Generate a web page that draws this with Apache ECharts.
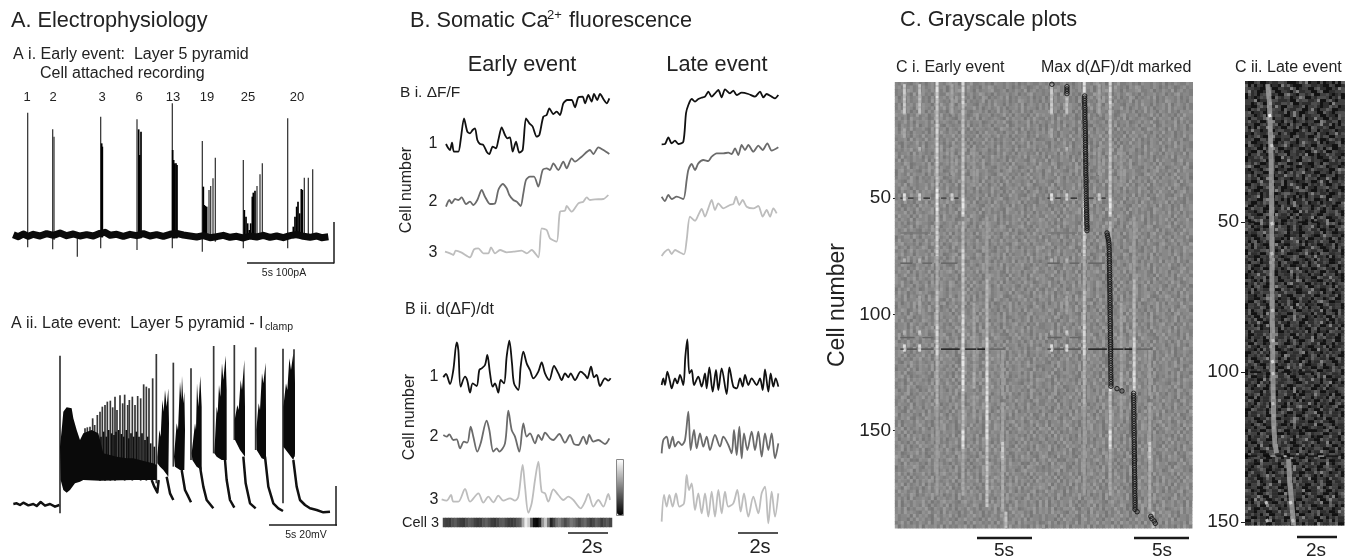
<!DOCTYPE html>
<html>
<head>
<meta charset="utf-8">
<style>
  html, body { margin: 0; padding: 0; background: #fff; }
  #chart { width: 1355px; height: 560px; }
</style>
<script src="https://cdn.jsdelivr.net/npm/echarts@6/dist/echarts.min.js"></script>
</head>
<body>
<div id="chart"></div>
<script>
// Panel A i, cell attached: [sample, top, bottom] in display units (axes run downward)
const aiBaseline = [[40,704],[55,710],[70,702],[85,709],[100,703],[120,708],[140,701],[160,706],[180,699],[200,707],[220,702],[240,708],[260,704],[280,708],[300,700],[315,697],[330,706],[350,703],[370,709],[390,703],[410,707],[430,701],[450,708],[470,704],[490,709],[510,703],[530,700],[550,705],[570,708],[590,711],[610,707],[630,713],[650,710],[670,706],[690,712],[710,709],[730,714],[750,708],[770,711],[790,706],[810,712],[830,708],[850,713],[870,707],[890,703],[910,709],[930,712],[950,708],[965,713],[985,710]];
const aiThinSpikes = [[83,338,742],[158,388,748],[162,410,720],[232,700,770],[302,350,745],[411,358,750],[517,310,745],[607,423,755],[627,570,720],[632,558,720],[639,535,720],[646,473,725],[730,480,745],[771,558,715],[780,523,715],[787,490,715],[863,355,745],[913,533,715],[925,533,715],[938,508,715]];
const aiBursts = [[305,430,712],[307,440,712],[416,388,715],[419,465,715],[423,395,715],[518,450,715],[521,480,715],[524,490,715],[528,490,715],[531,495,715],[610,560,715],[613,615,715],[616,618,715],[620,620,715],[733,630,715],[738,650,715],[743,670,715],[748,690,715],[752,670,715],[757,590,715],[760,578,715],[765,572,715],[880,680,715],[885,650,715],[890,620,715],[894,605,715],[899,640,715],[904,567,715],[907,570,715]];

// Panel A ii, current clamp
const aiiRest = [[40,642],[50,640],[60,645],[70,638],[85,646],[100,642],[110,648],[122,636],[135,647],[150,642],[165,650],[178,645]];
const aiiTail = [[455,570],[463,590],[472,607],[476,570],null,[500,560],[510,610],[520,630],null,[545,540],[555,600],[565,620],[573,637],null,[600,530],[610,590],[620,630],[640,655],null,[675,510],[680,570],[690,630],[703,653],null,[730,500],[737,580],[750,640],[767,655],null,[795,500],[805,590],[820,640],[835,655],[849,663],null,[880,510],[890,590],[900,630],[915,645],[930,655],[950,660],[970,667],[990,665]];
const aiiSpikes = [[180,197,670],[255,415,570],[262,412,570],[270,410,570],[278,385,570],[284,405,570],[292,375,570],[300,365,572],[307,350,570],[315,345,572],[322,335,570],[331,332,572],[338,352,570],[345,320,572],[351,360,570],[360,316,570],[368,340,570],[374,314,572],[383,345,570],[388,330,570],[397,320,572],[405,345,570],[413,318,570],[422,325,572],[431,283,570],[439,290,572],[447,295,570],[458,265,570],[469,192,580],[520,218,530],[573,235,510],[641,168,490],[703,165,450],[767,172,480],[849,176,640],[882,178,500]];
const aiiComb = [[303,440],[311,425],[319,440],[326,420],[335,430],[342,435],[348,425],[356,420],[364,432],[371,440],[379,420],[386,445],[393,430],[401,440],[409,425],[417,440],[426,430],[435,450],[443,440],[452,460],[463,470]];
const aiiBodies = [
  [[180,470],[185,420],[190,365],[200,352],[215,355],[220,385],[230,420],[240,450],[250,430],[275,420],[295,430],[310,490],[350,500],[380,505],[400,505],[420,510],[440,515],[460,520],[470,525],[470,570],[440,570],[400,570],[300,572],[250,570],[240,575],[225,580],[210,600],[200,608],[190,600],[182,570]],
  [[472,500],[478,420],[482,440],[487,330],[491,365],[495,300],[500,350],[505,295],[507,400],[505,560],[490,540],[480,530],[472,520]],
  [[522,500],[530,400],[534,420],[540,275],[544,330],[546,258],[550,340],[553,305],[555,420],[553,540],[540,540],[525,530]],
  [[575,490],[585,400],[588,420],[591,280],[595,350],[601,258],[605,350],[605,540],[590,530],[577,510]],
  [[643,490],[650,350],[653,370],[657,285],[661,320],[666,220],[670,270],[677,197],[680,300],[680,510],[665,510],[650,500]],
  [[704,390],[712,345],[716,360],[722,270],[726,300],[733,210],[735,350],[735,500],[720,480],[705,450]],
  [[769,420],[776,340],[780,360],[786,250],[790,280],[797,218],[798,360],[798,510],[785,505],[770,480]],
  [[850,350],[858,280],[862,300],[868,205],[873,240],[880,190],[885,280],[885,490],[880,510],[865,490],[850,470]]
];

// Panel B i, somatic dF/F
const dffEarly1 = [[168,432],[175,445],[180,450],[186,428],[192,455],[205,455],[212,420],[222,355],[232,395],[240,400],[248,390],[255,385],[262,420],[270,432],[280,435],[290,455],[298,462],[308,440],[318,445],[325,420],[335,382],[345,405],[352,415],[360,412],[368,455],[378,425],[388,458],[398,450],[408,355],[418,370],[428,380],[440,410],[448,405],[460,350],[470,345],[478,325],[490,342],[500,335],[510,345],[520,310],[532,300],[545,300],[555,322],[565,292],[578,290],[585,310],[595,285],[605,305],[612,282],[622,300],[630,282],[642,300],[650,310],[658,295]];
const dffEarly2 = [[168,620],[178,600],[185,610],[195,597],[205,600],[215,592],[228,612],[240,605],[250,615],[262,600],[275,570],[285,590],[300,612],[315,610],[325,570],[338,552],[350,565],[358,585],[370,600],[380,605],[392,618],[400,580],[408,540],[420,530],[432,530],[445,560],[458,510],[470,505],[480,510],[490,490],[505,510],[520,485],[530,505],[545,475],[555,485],[575,470],[600,450],[610,462],[625,442],[640,450],[658,462]];
const dffEarly3 = [[165,755],[180,760],[190,765],[197,752],[215,758],[240,772],[252,748],[265,745],[280,760],[295,760],[303,742],[315,760],[330,750],[350,757],[370,755],[395,752],[410,760],[425,750],[445,772],[455,685],[470,690],[480,715],[500,725],[510,635],[525,632],[530,618],[545,635],[565,610],[580,605],[590,592],[600,600],[615,598],[640,597],[655,585]];
const dffLate1 = [[815,433],[825,432],[835,412],[845,430],[855,422],[865,432],[880,425],[888,340],[895,315],[905,297],[915,305],[925,297],[935,293],[945,290],[955,275],[965,290],[975,280],[985,270],[995,292],[1005,268],[1020,280],[1030,272],[1040,285],[1055,278],[1075,282],[1095,290],[1110,275],[1120,292],[1130,282],[1145,290],[1155,295],[1165,285]];
const dffLate2 = [[815,590],[825,603],[835,585],[845,597],[860,590],[880,597],[890,540],[895,510],[905,492],[915,510],[925,490],[940,480],[955,483],[965,470],[980,460],[1000,460],[1015,458],[1025,462],[1035,445],[1045,465],[1055,435],[1065,450],[1075,435],[1090,455],[1105,437],[1118,450],[1132,430],[1145,452],[1165,442]];
const dffLate3 = [[815,768],[825,755],[835,748],[845,762],[855,750],[865,755],[882,763],[890,720],[900,650],[915,662],[925,645],[935,627],[945,650],[955,625],[965,600],[975,630],[985,610],[1000,625],[1020,615],[1030,612],[1038,590],[1048,615],[1058,600],[1070,620],[1090,625],[1105,618],[1118,650],[1130,630],[1140,650],[1150,625],[1160,640]];

// Panel B ii, d(dF)/dt
const derivEarly1 = [[160,262],[168,252],[180,282],[190,240],[200,157],[205,180],[212,290],[225,260],[232,272],[240,308],[248,280],[260,288],[268,240],[275,235],[285,225],[292,195],[300,250],[308,290],[315,280],[325,308],[332,270],[342,280],[350,200],[358,152],[366,220],[372,280],[385,300],[392,230],[400,185],[410,220],[420,240],[430,265],[445,245],[455,217],[465,250],[478,270],[492,228],[505,250],[515,270],[525,250],[535,262],[542,250],[555,270],[572,245],[585,255],[592,265],[603,230],[612,262],[620,255],[630,288],[645,265],[655,272],[662,265]];
const derivEarly2 = [[160,435],[170,440],[178,433],[190,450],[200,448],[210,475],[222,455],[232,458],[242,410],[250,440],[262,485],[272,460],[290,392],[298,420],[310,485],[320,475],[328,485],[345,460],[355,362],[365,420],[375,440],[388,485],[400,400],[410,440],[420,430],[435,460],[445,435],[455,450],[465,428],[480,445],[490,450],[508,432],[525,458],[540,435],[552,462],[565,465],[580,440],[590,462],[598,435],[610,455],[625,450],[645,462],[658,445]];
const derivEarly3 = [[155,628],[170,632],[183,615],[190,635],[205,635],[225,597],[240,635],[265,610],[280,638],[295,620],[310,637],[325,617],[340,632],[360,625],[375,632],[385,620],[398,525],[405,590],[415,668],[425,640],[435,570],[445,515],[455,605],[465,610],[475,635],[490,598],[505,615],[520,630],[535,620],[550,630],[572,655],[585,635],[595,612],[610,650],[625,630],[640,650],[655,612],[660,630]];
const derivLate1 = [[815,285],[820,265],[825,285],[832,245],[840,275],[845,295],[855,265],[862,280],[870,255],[880,285],[886,200],[892,148],[898,250],[905,240],[912,285],[925,260],[935,290],[945,250],[950,295],[958,232],[968,305],[978,240],[985,300],[995,235],[1010,312],[1018,232],[1030,290],[1040,295],[1050,265],[1058,290],[1065,255],[1075,285],[1085,265],[1100,285],[1110,265],[1118,300],[1125,238],[1135,305],[1142,250],[1150,290],[1157,265],[1165,290]];
const derivLate2 = [[815,490],[820,450],[830,440],[838,475],[848,440],[855,470],[865,455],[875,465],[885,450],[895,365],[902,480],[912,420],[920,475],[930,430],[940,470],[950,440],[960,480],[975,435],[990,470],[1000,440],[1015,465],[1025,490],[1032,420],[1040,495],[1048,410],[1055,505],[1062,430],[1072,480],[1085,425],[1095,480],[1105,425],[1115,500],[1125,430],[1135,480],[1145,430],[1155,505],[1165,460]];
const derivLate3 = [[815,695],[822,615],[830,650],[838,615],[848,650],[858,610],[868,650],[882,640],[890,555],[897,600],[905,580],[915,660],[925,610],[935,670],[945,610],[955,680],[965,605],[975,680],[985,600],[995,670],[1005,605],[1015,650],[1030,640],[1042,600],[1052,665],[1062,610],[1075,680],[1090,620],[1105,670],[1115,610],[1125,590],[1135,700],[1145,605],[1155,680],[1165,610]];

// Cell 3 strip under B ii, gray level per time bin
const cell3Strip = [70,62,58,80,90,72,60,55,78,92,85,66,58,60,84,95,80,62,55,70,88,92,74,60,58,66,86,94,170,235,205,90,15,8,40,150,200,120,35,70,110,125,100,75,95,118,105,85,70,92,105,80,60,72,96,84,62,78,90,70];

// Panel C i, gray code per cell row (3 cells) and time column
const earlyTexture = [
'54654356453564554675635457445645365546546354654465',
'45547645365465546354675465364556744563546547356454',
'63546456745364556463754546354763545647354655463546',
'46355647465536475465364755436546475536456473565464',
'55746354563647545365547643556463547465365474536556',
'46463755465347564654365546473654565437465563647545',
'53654647356456743654556473546456365547346554745636',
'64745365546365475465637454536475564536547456354655',
'45563746547456354654745363655474635465536475456346',
'56364556473565474536654563745465637465546354756454',
'64556374654536465745365447563654536475463656454736',
'47365465547364565643754565364754654563746554367455',
'55647356454765365446557364654755436564756345654763',
'36547465563647455637546436574565436756454635745564',
'65436754654563746536475565463745646357465545637465',
'54765364557463654745536465374654756345656473654635',
'46354756465534765465637454565473646354756443657454',
'65474536547365465756345664735546375464565736454365',
'54636547465573645465374655463756465437654563647556',
'47556364756454637546535647654365574635465563745646',
'56463547655436754565473653645746553647465463754565',
'64574654365476354655647365545637465654736456354756',
'35466475365564745636547456534657465365474563655474',
'56745546356475463546756365465473564654367545636547',
'45635746554637465645367455643765436547465563654756',
'63547465637456546357465564365476546375465546374655',
'54765436556473656434756546535746564736546574536465',
'46557364654735465675364556473654556437465636547546',
'65436574654563746554635746455367456547365466354756',
'54745636547465365476545637465546357465564365475463',
'47563546756434765465563746546357456654736545637465',
'65474556364756543647565463745465376456354657465364',
'36556473654745635465746354565473654635746556436754',
'56463754565437465563647545637465546374656453674556',
'64745365476546356475463556474563546574635645736554',
'45563647546573654654763545647365546375465563746545',
'57364654756345567436546574653654756443657465536474',
'63547465365547463654756465364756455637465463574656',
'45655374654637465546357456547365465637456546354765',
'56473546574635465756346554763546557463654756354645',
'64365754654563746556436754654736456537465645736554',
'35547463655473654656374654754635465573645665437465',
'56746354565437465463756454656374654756354656473546',
'45635746556473654754635465637456546374655436574654',
'63547456354756465364754655463746556437465645376456',
'54763546574654365647546356475463655473654565374654',
'46554736546574635465756346554736546574563654753646',
'65437465563746545637465654736546357465647354655637',
'54657436547654356475463655647354657463546574655364',
'47365546754635467456355647465365476546357465463756',
'56474635465563746556437465546374655647354656473645',
'63556474635465746355647465364756454736546574635465',
'45746354756546357465536474654635746556437465463755',
'56345657463546754654763545647365465756346554735467',
'64756343655746354675465536475463546574635465647356',
'35465576436547465563746546354756465374655463765454',
'57463645574635467546536475463756545637465546374655',
'46554736465763545647365465573645746554637465463756',
'65376454635746556473546574635465756354654736546574',
'54654763546575463546374656547365465637456554736465',
'47365465574635467565436754655463746546357456465374',
'56473546657436547546365475463556473654756345657465',
'64556374656437546574635465756354654763546574635546',
'45746354654736546574655364756454637465563746554637'
];

// Panel C ii, gray code per cell row (2 cells) and time column
const lateTexture = [
'100230012113320001425011030120304',
'322110043002211530122003411002153',
'041202333120045210331240022310120',
'222501102331112004233112500341022',
'110034220152003311240223101142301',
'340112003221140252001332004210233',
'203311450022132103240115220031142',
'122002311340120413300212351140203',
'315220114023311200142033021123011',
'021341002511222034112002413300322',
'240011233002143110253211402011340',
'112300412530021132002141230340012',
'302241100213340221315002011423110',
'021113402300115220033412210024132',
'453002211241033120021102343012201',
'110322003114202413351120022103142',
'231140152002311012204223011530021',
'003214322011402531100312142002313',
'241002113253011022443100212031120',
'112350210032141103020231154002231',
'320021431102220351124011302113004',
'014223002311415002133202410320112',
'231100342052113024011132003211430',
'102435110223002132310204112500213',
'340212003114220141023351021300224',
'021133520012340211002231140320011',
'213002241311020532114002213104302',
'130421002351100223140312002114023',
'022113340201523110024211330021140',
'311002214031012243002315112040231',
'103320115220341100213024113200142',
'240113002312014325011200234110302',
'012251134002211403122031104223010',
'331020412130022115403211002314120',
'120342001153220013124002311230412',
'204113220031142230011532140220113',
'311002354120113002411203220134002',
'022141103220314105230112003411220',
'140233011402112340022131150320041',
'213004122311002251340120213004132',
'031152003214110223004113251020311',
'122340110230412113120034022111403',
'300211423051122004131120340211302',
'113022004113230241002351110224003',
'241103215002114320131002214030112',
'002314120341002211450231102131220',
'130022351120240113002142211300341',
'312410023002114231520011340223011',
'021132114203300212041133002114230',
'240011302251134002311220415002113',
'113204120031123310024112203350120',
'320112003421102051132300214011233',
'021340211302241103002215311204002',
'143002113025112320401120031240213',
'210231140023003114522011302113400',
'031122304112420031102335002141120',
'223001142300211254103220114002312',
'110342011231002041132115003320211',
'041120032214300211020000113402231',
'302113240011532104122301002241103',
'120034112203141002311242011503220',
'213002351120234011402113320011402',
'041122003411300225120341002133210',
'332015002141123002134011222400113',
'110243110320041152203112003421102',
'024112302013420311002114253201130',
'311300142022113240311500221041123',
'102241035112002314120032143002211',
'430120023114201132250011342003122',
'112253004112330021140231002415013',
'020341121003214102302113250041132',
'351002114230112004231411003220114',
'113120340022153114002231401120023',
'004231125011302140322113002140311'
];

// Panel C i: bright vertical bands [time s, from cell, to cell, gray]
const earlyBands = [
[3.64,0,8,225],[3.64,8,18,200],[3.64,18,35,215],[3.64,35,46,200],[3.64,46,56,235],[3.64,56,75,210],[3.64,75,90,175],[3.64,90,105,195],[3.64,105,118,215],[3.64,118,140,180],[3.64,140,178,160],
[6.0,0,10,215],[6.0,10,30,195],[6.0,30,50,200],[6.0,50,58,230],[6.0,60,72,185],[6.0,72,82,215],[6.0,82,100,195],[6.0,100,118,220],[6.0,118,133,230],[6.0,133,150,190],[6.0,150,158,230],[6.0,158,178,170],
[8.18,58,85,160],[8.18,85,110,185],[8.18,110,125,215],[8.18,125,155,225],[8.18,155,183,200],
[0.67,1,14,205],[0.67,20,24,170],[0.67,48,51,225],[0.67,76,78,180],[0.67,107,109,180],[0.67,113,116,220],
[2.06,1,14,195],[2.06,28,30,180],[2.06,48,51,210],[2.06,76,78,180],[2.06,92,100,165],[2.06,107,109,205],[2.06,113,116,220],
[5.0,1,14,165],[5.0,28,40,155],[5.0,48,51,205],
[7.0,28,45,155],[7.0,95,120,165],[7.0,125,132,175],[7.0,135,145,160],
[9.6,115,135,160],[9.6,138,155,165],[9.6,155,163,205],[9.6,163,185,175],[9.9,185,192,195]
];
// Panel C i: dark horizontal rows [cell, from s, to s, gray]
const earlyRows = [
[50,0.3,0.5,60],[50,1.0,1.5,60],[50,2.4,3.0,50],[50,4.0,4.5,70],[50,5.2,5.6,60],
[65,0.3,3.0,118],[78,0.3,1.4,98],[78,2.3,3.2,102],[78,4.0,5.5,102],
[110,0.3,1.6,98],[110,2.3,3.3,102],
[115,0.3,0.6,70],[115,0.9,1.8,80],[115,2.2,3.3,85],[115,4.0,5.7,30],[115,6.2,7.2,35],[115,7.3,8.0,20],[115,8.4,9.8,100]
];
// Time of max d(dF)/dt per cell, null where no mark can be read
const maxDerivTimes = [
0.7,2.07,2.07,2.07,2.07,3.68,3.68,3.68,3.68,3.68,
3.7,3.7,3.7,3.7,3.7,3.7,3.72,3.72,3.72,3.72,
3.74,3.74,3.74,3.74,3.74,3.75,3.75,3.75,3.75,3.75,
3.77,3.77,3.77,3.77,3.77,3.78,3.78,3.78,3.78,3.78,
3.8,3.8,3.8,3.8,3.8,3.81,3.81,3.81,3.81,3.81,
3.83,3.83,3.83,3.83,3.85,3.85,3.85,3.85,3.87,3.87,
3.87,3.89,3.89,3.89,5.71,5.75,5.8,5.85,5.88,5.9,
5.9,5.92,5.92,5.92,5.93,5.93,5.93,5.94,5.94,5.94,
5.95,5.95,5.95,5.96,5.96,5.96,5.97,5.97,5.97,5.97,
5.98,5.98,5.98,5.98,5.99,5.99,5.99,5.99,6.0,6.0,
6.0,6.0,6.01,6.01,6.01,6.01,6.02,6.02,6.02,6.02,
6.03,6.03,6.03,6.03,6.04,6.04,6.04,6.04,6.05,6.05,
6.05,6.05,6.06,6.06,6.06,6.06,6.06,6.07,6.07,6.07,
6.07,6.62,7.07,8.13,8.13,8.14,8.14,8.14,8.15,8.15,
8.15,8.15,8.16,8.16,8.16,8.16,8.17,8.17,8.17,8.17,
8.18,8.18,8.18,8.18,8.19,8.19,8.19,8.19,8.2,8.2,
8.2,8.2,8.21,8.21,8.21,8.21,8.22,8.22,8.22,8.22,
8.23,8.23,8.23,8.23,8.24,8.24,8.24,8.24,8.25,8.25,
8.25,8.26,8.26,8.26,8.45,null,9.7,9.8,10.0,10.1
];

// Panel C ii: the bright late band [time s, cell]
const lateBand = [[1.12,4],[1.2,10],[1.25,20],[1.29,30],[1.31,40],[1.31,50],[1.33,60],[1.33,70],[1.34,80],[1.36,90],[1.37,100],[1.4,110],[1.42,118],[1.48,124],[1.56,127]];
const lateBandLow = [[2.15,129],[2.2,136],[2.28,142],[2.36,148],[2.38,151]];
const lateSpots = [[1.2,14,1.24,15,245],[1.3,24,1.34,25,200],[1.3,50,1.36,51,205],[1.3,60,1.36,61,190],[1.33,79,1.38,80,190],[1.36,89,1.4,90,190],[1.33,96,1.39,97,215],[1.36,100,1.4,101,200],[1.36,110,1.4,111,190],[2.22,143,2.28,144,210],[2.32,149,2.4,150,195],[1.02,143,1.08,144,190],[1.06,149,1.12,150,180]];
const lateRows = [[128,0,0.25,0],[128,0.25,0.6,20],[128,0.9,1.25,10],[128,1.25,1.5,150],[128,1.55,1.9,20],[128,1.9,2.05,200],[128,2.1,2.45,10],[128,2.5,3.0,30],[128,3.1,3.6,20],[128,3.6,3.9,150],[128,4.0,4.6,20],[100,0.25,0.8,10],[100,1.8,2.3,20],[100,2.6,3.4,30],[50,0.2,0.5,15],[50,2.6,3.0,15],[50,3.3,3.6,15]];

// Text labels over trace panels
const spikeCounts = ['1','2','3','6','13','19','25','20'];
const spikeCountX = [27,53,102,139,173,207,248,297];
const cellLabels = ['1','2','3'];

const TEXT = '#222';
const FONT = '"Liberation Sans", Arial, sans-serif';

const grids = [];
const xAxes = [];
const yAxes = [];
const series = [];

// hidden axes for a trace panel, display units equal three per pixel
const addTracePanel = (left, top, width, height) => {
  grids.push({ left, top, width, height });
  xAxes.push({ type: 'value', gridIndex: grids.length - 1, min: 0, max: width * 3, show: false });
  yAxes.push({ type: 'value', gridIndex: grids.length - 1, min: 0, max: height * 3, inverse: true, show: false });
  return grids.length - 1;
};

// image panel with a visible cell number axis
const addImagePanel = (left, top, width, height, tRange, cellRange, cellName) => {
  grids.push({ left, top, width, height });
  xAxes.push({ type: 'value', gridIndex: grids.length - 1, min: tRange[0], max: tRange[1], show: false });
  const ticks = cellRange[2];
  yAxes.push({
    type: 'value',
    gridIndex: grids.length - 1,
    min: cellRange[0],
    max: cellRange[1],
    inverse: true,
    name: cellName,
    nameLocation: 'middle',
    nameGap: 48,
    nameTextStyle: { fontSize: 23, color: TEXT, fontFamily: FONT },
    axisLine: { show: false },
    splitLine: { show: false },
    axisTick: { show: ticks.length > 0, length: 4, lineStyle: { color: '#222', width: 1 }, customValues: ticks },
    axisLabel: { show: ticks.length > 0, fontSize: 19, color: TEXT, fontFamily: FONT, margin: 6, customValues: ticks }
  });
  return grids.length - 1;
};

const addLine = (gi, data, color, width, smooth) => {
  series.push({
    type: 'line',
    xAxisIndex: gi,
    yAxisIndex: gi,
    data: data.map(p => p === null ? [NaN, NaN] : p),
    showSymbol: false,
    smooth: smooth || 0,
    connectNulls: false,
    lineStyle: { color, width, join: 'round' },
    silent: true,
    z: 3
  });
};

const addSegments = (gi, data, width, z, dash) => {
  series.push({
    type: 'custom',
    xAxisIndex: gi,
    yAxisIndex: gi,
    clip: true,
    silent: true,
    z,
    data,
    renderItem: (params, api) => {
      const a = api.coord([api.value(0), api.value(1)]);
      const b = api.coord([api.value(2), api.value(3)]);
      const g = api.value(4);
      return {
        type: 'line',
        shape: { x1: a[0], y1: a[1], x2: b[0], y2: b[1] },
        style: { stroke: `rgb(${g},${g},${g})`, lineWidth: width, lineDash: dash || null }
      };
    }
  });
};

// draw a texture given by digit rows through the panel axes, each row read
// forwards and then backwards at half height so the grain stays fine
const addTexture = (gi, rows, t0, dt, cell0, dCell, toGray) => {
  const data = [];
  const half = dCell / 2;
  rows.forEach((row, j) => {
    const chars = row.split('');
    chars.forEach((ch, i) => data.push([t0 + i * dt, cell0 + j * dCell, toGray[Number(ch)]]));
    chars.slice().reverse().forEach((ch, i) => data.push([t0 + i * dt, cell0 + j * dCell + half, toGray[Number(ch)]]));
  });
  series.push({
    type: 'custom',
    xAxisIndex: gi,
    yAxisIndex: gi,
    clip: true,
    silent: true,
    z: 1,
    data,
    renderItem: (params, api) => {
      const a = api.coord([api.value(0), api.value(1)]);
      const b = api.coord([api.value(0) + dt, api.value(1) + half]);
      const g = api.value(2);
      return {
        type: 'rect',
        shape: { x: a[0], y: a[1], width: b[0] - a[0] + 0.5, height: b[1] - a[1] + 0.5 },
        style: { fill: `rgb(${g},${g},${g})` }
      };
    }
  });
};

// ---- panel A i
const aiGrid = addTracePanel(0, 0, 360, 280);
addSegments(aiGrid, aiThinSpikes.map(s => [s[0], s[1], s[0], s[2], 60]), 1.3, 2);
addSegments(aiGrid, aiBursts.map(s => [s[0], s[1], s[0], s[2], 0]), 1.7, 2);
addLine(aiGrid, aiBaseline, '#0a0a0a', 7);

// ---- panel A ii
const aiiGrid = addTracePanel(0, 290, 360, 270);
addSegments(aiiGrid, aiiSpikes.map(s => [s[0], s[1], s[0], s[2], 55]), 1.7, 2);
addSegments(aiiGrid, aiiComb.map(s => [s[0], s[1], s[0], 530, 15]), 1.7, 2);
series.push({
  type: 'custom',
  xAxisIndex: aiiGrid,
  yAxisIndex: aiiGrid,
  clip: false,
  silent: true,
  z: 2,
  data: aiiBodies.map(b => [b[0][0], b[0][1]]),
  renderItem: (params, api) => ({
    type: 'polygon',
    shape: { points: aiiBodies[params.dataIndex].map(p => api.coord(p)) },
    style: { fill: '#0a0a0a' }
  })
});
addLine(aiiGrid, aiiRest, '#111', 2.5);
addLine(aiiGrid, aiiTail, '#111', 2.5);

// ---- panel B traces
const biGrid = addTracePanel(390, 0, 400, 280);
[[dffEarly1, '#111', 1.8], [dffEarly2, '#6b6b6b', 1.8], [dffEarly3, '#bdbdbd', 1.8],
 [dffLate1, '#111', 1.8], [dffLate2, '#6b6b6b', 1.8], [dffLate3, '#bdbdbd', 1.8]].forEach(t => addLine(biGrid, t[0], t[1], t[2], 0.25));
const biiGrid = addTracePanel(390, 290, 400, 270);
[[derivEarly1, '#111', 1.8], [derivEarly2, '#6b6b6b', 1.8], [derivEarly3, '#bdbdbd', 1.8],
 [derivLate1, '#111', 1.8], [derivLate2, '#6b6b6b', 1.8], [derivLate3, '#bdbdbd', 1.8]].forEach(t => addLine(biiGrid, t[0], t[1], t[2], 0.3));

// ---- cell 3 strip, real heatmap so the gray scale bar comes from visualMap
grids.push({ left: 443, top: 518, width: 169, height: 9 });
const stripGrid = grids.length - 1;
xAxes.push({ type: 'category', gridIndex: stripGrid, data: cell3Strip.map((v, i) => i), show: false });
yAxes.push({ type: 'category', gridIndex: stripGrid, data: ['Cell 3'], show: false });
series.push({
  type: 'heatmap',
  xAxisIndex: stripGrid,
  yAxisIndex: stripGrid,
  data: cell3Strip.map((v, i) => [i, 0, v]),
  silent: true
});
const stripSeriesIndex = series.length - 1;

// ---- panel C i, same recording shown twice, second with marks
const midGrays = [104, 110, 114, 118, 126, 136, 146, 156, 164, 172];
const darkGrays = [18, 46, 64, 78, 98, 128, 150, 170, 190, 210];
const bandBase = earlyBands.map(b => [b[0], b[1], b[0], b[2], Math.round(136 + (b[3] - 136) * 0.7)]);
const bandSpots = earlyBands.map(b => [b[0], b[1], b[0], b[2], b[3]]);
const rowSegments = earlyRows.map(r => [r[1], r[0], r[2], r[0], r[3]]);

const ciGrid = addImagePanel(897, 82, 135, 446, [0, 12.27], [0, 192, [50, 100, 150]], 'Cell number');
addTexture(ciGrid, earlyTexture, -0.2, 0.2727, 0, 3, midGrays);
addSegments(ciGrid, bandBase, 3, 2);
addSegments(ciGrid, bandSpots, 2.5, 2, [3, 2, 5, 4, 2, 3]);
addSegments(ciGrid, rowSegments, 1.5, 3);

const markedGrid = addImagePanel(1042, 82, 150, 446, [-0.2, 13.44], [0, 192, []], '');
addTexture(markedGrid, earlyTexture, -0.2, 0.2727, 0, 3, midGrays);
addSegments(markedGrid, bandBase, 3, 2);
addSegments(markedGrid, bandSpots, 2.5, 2, [3, 2, 5, 4, 2, 3]);
addSegments(markedGrid, rowSegments, 1.5, 3);
series.push({
  type: 'scatter',
  xAxisIndex: markedGrid,
  yAxisIndex: markedGrid,
  data: maxDerivTimes.map((t, i) => t === null ? null : [t, i + 1]).filter(Boolean),
  symbol: 'circle',
  symbolSize: 4.5,
  itemStyle: { color: 'rgba(70,70,70,0.35)', borderColor: '#0a0a0a', borderWidth: 1 },
  silent: true,
  clip: true,
  z: 5
});

// ---- panel C ii
const ciiGrid = addImagePanel(1245, 82, 98, 444, [0, 4.83], [3.3, 151.3, [50, 100, 150]], '');
addTexture(ciiGrid, lateTexture, 0, 0.1478, 3, 2, darkGrays);
addLine(ciiGrid, lateBand, 'rgba(165,165,165,0.8)', 5);
addLine(ciiGrid, lateBandLow, 'rgba(165,165,165,0.8)', 5);
addSegments(ciiGrid, lateSpots, 3, 4);
addSegments(ciiGrid, lateRows.map(r => [r[1], r[0], r[2], r[0], r[3]]), 1.5, 4);

// ---- text and scale bars
const label = (text, x, y, size, extra) => ({
  type: 'text',
  x,
  y,
  silent: true,
  z: 20,
  style: Object.assign({ text, fontSize: size, fontFamily: FONT, fill: TEXT, verticalAlign: 'middle' }, extra || {})
});
const bar = (x1, y1, x2, y2, width) => ({
  type: 'line',
  silent: true,
  z: 20,
  shape: { x1, y1, x2, y2 },
  style: { stroke: '#1a1a1a', lineWidth: width }
});
const center = { align: 'center' };

const graphics = [
  label('A. Electrophysiology', 11, 21, 21.7),
  label('A i. Early event:  Layer 5 pyramid', 13, 55, 16),
  label('Cell attached recording', 40, 74, 16),
  label('5s 100pA', 284, 273, 10.5, center),
  bar(247, 263, 334, 263, 1.5),
  bar(334, 222, 334, 263.5, 1.5),
  label('A ii. Late event:  Layer 5 pyramid - I', 11, 324, 16),
  label('clamp', 265, 327, 10.5),
  label('5s 20mV', 306, 535, 10.5, center),
  bar(269, 525, 337, 525, 1.5),
  bar(336, 486, 336, 525.5, 1.5),
  label('B. Somatic Ca', 410, 21, 21.7),
  label('2+', 547, 15, 13),
  label('fluorescence', 569, 21, 21.7),
  label('Early event', 522, 65, 21.7, center),
  label('Late event', 717, 65, 21.7, center),
  label('B i. ΔF/F', 400, 93, 15.5),
  label('B ii. d(ΔF)/dt', 405, 310, 16),
  label('Cell number', 407, 190, 16, Object.assign({}, center)),
  label('Cell number', 410, 417, 16, Object.assign({}, center)),
  label('Cell 3', 402, 523, 14.5),
  bar(568, 533, 608, 533, 1.5),
  label('2s', 592, 547, 20, center),
  bar(738, 533, 778, 533, 1.5),
  label('2s', 760, 547, 20, center),
  label('C. Grayscale plots', 900, 20, 21.7),
  label('C i. Early event', 896, 68, 16),
  label('Max d(ΔF)/dt marked', 1041, 68, 16),
  label('C ii. Late event', 1235, 68, 16),
  bar(977, 538, 1032, 538, 2.5),
  label('5s', 1004, 551, 19, center),
  bar(1134, 538, 1189, 538, 2.5),
  label('5s', 1162, 551, 19, center),
  bar(1297, 537, 1337, 537, 2.5),
  label('2s', 1316, 551, 19, center),
  // outline round the gray scale bar
  { type: 'rect', silent: true, z: 20, shape: { x: 616.5, y: 459.5, width: 7, height: 56 }, style: { fill: 'none', stroke: '#888', lineWidth: 1 } }
];
// rotate the two small axis titles
graphics.forEach(g => {
  if (g.style && g.style.text === 'Cell number') g.rotation = Math.PI / 2;
});
spikeCounts.forEach((c, i) => graphics.push(label(c, spikeCountX[i], 97, 13, center)));
[144, 202, 253].forEach((y, i) => graphics.push(label(cellLabels[i], 433, y, 16, center)));
[377, 437, 500].forEach((y, i) => graphics.push(label(cellLabels[i], 434, y, 16, center)));

const chart = echarts.init(document.getElementById('chart'), null, { renderer: 'canvas' });
chart.setOption({
  animation: false,
  backgroundColor: '#fff',
  grid: grids,
  xAxis: xAxes,
  yAxis: yAxes,
  tooltip: { show: false },
  visualMap: {
    type: 'continuous',
    min: 0,
    max: 255,
    seriesIndex: stripSeriesIndex,
    left: 617,
    top: 460,
    itemWidth: 7,
    itemHeight: 55,
    padding: 0,
    calculable: false,
    hoverLink: false,
    text: ['', ''],
    inRange: { color: ['#000', '#fff'] }
  },
  graphic: graphics,
  series
});
</script>
</body>
</html>
